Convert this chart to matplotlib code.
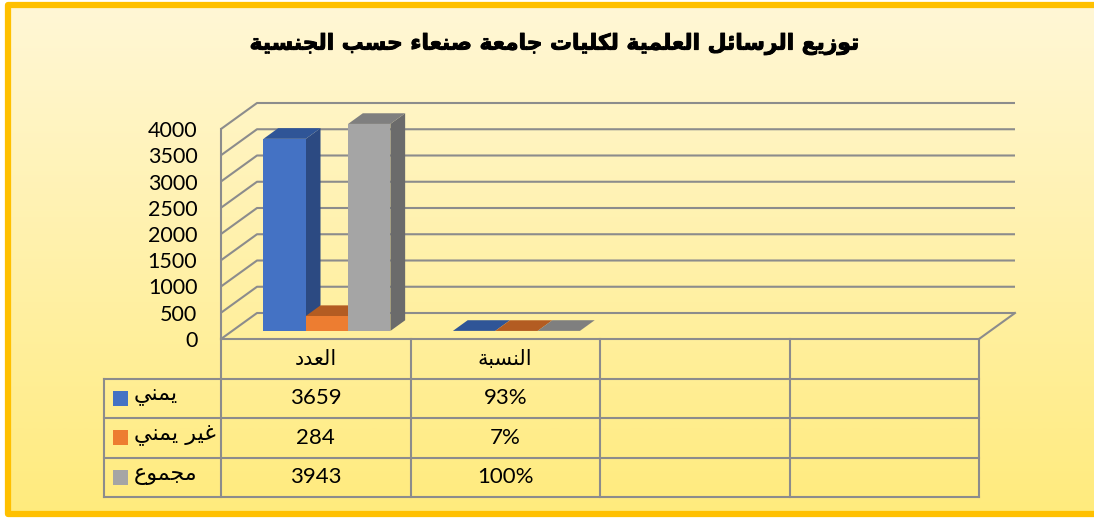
import numpy as np
import matplotlib
matplotlib.use('Agg')
import matplotlib.pyplot as plt
import matplotlib.patheffects as pe
from matplotlib.patches import Polygon, Rectangle

# ---- data ----
title = 'توزيع الرسائل العلمية لكليات جامعة صنعاء حسب الجنسية'
categories = ['العدد', 'النسبة', '', '']
series_names = ['يمني', 'غير يمني', 'مجموع']
yemeni = [3659, 0.93]
non_yemeni = [284, 0.07]
total = [3943, 1.00]
series_values = [yemeni, non_yemeni, total]
cell_text = [['3659', '93%'], ['284', '7%'], ['3943', '100%']]
yticks = list(range(0, 4001, 500))

front_colors = ['#4472c4', '#ed7d31', '#a5a5a5']
side_colors = ['#2c4a82', '#b45a1f', '#6b6b6b']
top_colors = ['#2f5597', '#b35c22', '#7f7f7f']
grid_color = '#8c8c8c'

# arabic letters: (isolated form in presentation forms-B, number of forms)
FORMS = {'ء': (0xFE80, 1), 'آ': (0xFE81, 2), 'أ': (0xFE83, 2), 'ؤ': (0xFE85, 2),
         'إ': (0xFE87, 2), 'ئ': (0xFE89, 4), 'ا': (0xFE8D, 2), 'ب': (0xFE8F, 4),
         'ة': (0xFE93, 2), 'ت': (0xFE95, 4), 'ث': (0xFE99, 4), 'ج': (0xFE9D, 4),
         'ح': (0xFEA1, 4), 'خ': (0xFEA5, 4), 'د': (0xFEA9, 2), 'ذ': (0xFEAB, 2),
         'ر': (0xFEAD, 2), 'ز': (0xFEAF, 2), 'س': (0xFEB1, 4), 'ش': (0xFEB5, 4),
         'ص': (0xFEB9, 4), 'ض': (0xFEBD, 4), 'ط': (0xFEC1, 4), 'ظ': (0xFEC5, 4),
         'ع': (0xFEC9, 4), 'غ': (0xFECD, 4), 'ف': (0xFED1, 4), 'ق': (0xFED5, 4),
         'ك': (0xFED9, 4), 'ل': (0xFEDD, 4), 'م': (0xFEE1, 4), 'ن': (0xFEE5, 4),
         'ه': (0xFEE9, 4), 'و': (0xFEED, 2), 'ى': (0xFEEF, 2), 'ي': (0xFEF1, 4)}


def shape(text):
    # pick the joined letter forms and reverse for right-to-left display
    words = []
    for word in text.split(' '):
        chars = []
        for i, ch in enumerate(word):
            if ch not in FORMS:
                chars.append(ch)
                continue
            base, n = FORMS[ch]
            prev = word[i - 1] if i > 0 else None
            nxt = word[i + 1] if i + 1 < len(word) else None
            link_prev = n > 1 and prev in FORMS and FORMS[prev][1] == 4
            link_next = n == 4 and nxt in FORMS and FORMS[nxt][1] > 1
            if link_prev and link_next:
                code = base + 3
            elif link_prev:
                code = base + 1
            elif link_next:
                code = base + 2
            else:
                code = base
            chars.append(chr(code))
        words.append(''.join(chars))
    return ' '.join(words)[::-1]


W, H = 1094, 518
fig = plt.figure(figsize=(W / 100, H / 100), dpi=100)
fig.patch.set_facecolor('white')

# background with gradient and gold frame (the right side is cut off)
bg = fig.add_axes([0, 0, 1, 1])
grad = np.linspace(0, 1, 256)[:, None]
c0 = np.array([255, 247, 214]) / 255
c1 = np.array([255, 235, 125]) / 255
img = c0[None, None, :] * (1 - grad[..., None]) + c1[None, None, :] * grad[..., None]
bg.imshow(img, extent=(8, W, 514, 5), aspect='auto', zorder=0)
bg.plot([W, 8, 8, W], [5, 5, 514, 514], color='#ffc000', lw=4.5, zorder=2,
        solid_joinstyle='round', solid_capstyle='butt')
bg.set_xlim(0, W)
bg.set_ylim(H, 0)
bg.axis('off')

fig.text(553 / W, 1 - 44 / H, shape(title), ha='center', va='center',
         fontsize=15.7, fontweight='bold', family=['DejaVu Sans'],
         path_effects=[pe.withStroke(linewidth=0.7, foreground='black')])

# ---- 3d bar area ----
ax = fig.add_axes([221 / W, 1 - 339 / H, (979 - 221) / W, 210 / H])
ax.set_xlim(0, 4)
ax.set_ylim(0, 4000)
ax.patch.set_alpha(0)
for sp in ax.spines.values():
    sp.set_visible(False)
ax.set_xticks([])
ax.set_yticks(yticks)
ax.set_yticklabels([str(t) for t in yticks], family=['Lato'], fontsize=15.5)
ax.tick_params(axis='y', length=0, pad=17)

DX, DY = 36 / 189.5, 26 * 4000 / 210


def P(x, v, d):
    return (x + d * DX, v + d * DY)


lw_grid = 1.5
for v in yticks:
    pts = [P(0, v, 0), P(0, v, 1), P(4, v, 1)]
    ax.plot(*zip(*pts), color=grid_color, lw=lw_grid, clip_on=False, zorder=1,
            solid_capstyle='butt')
ax.plot(*zip(P(0, 0, 0), P(0, 4000, 0)), color=grid_color, lw=lw_grid, clip_on=False, zorder=1)
ax.plot(*zip(P(4, 0, 0), P(4, 0, 1)), color=grid_color, lw=lw_grid, clip_on=False, zorder=1)
ax.plot(*zip(P(0, 0, 0), P(4, 0, 0)), color=grid_color, lw=lw_grid, clip_on=False, zorder=1)

gap = 0.165
bw = (1 - 2 * gap) / 3
d0, d1 = 0.31, 0.72
for c in range(len(yemeni)):
    for s, vals in enumerate(series_values):
        v = vals[c]
        x0 = c + gap + s * bw
        x1 = x0 + bw
        front = [P(x0, 0, d0), P(x1, 0, d0), P(x1, v, d0), P(x0, v, d0)]
        side = [P(x1, 0, d0), P(x1, 0, d1), P(x1, v, d1), P(x1, v, d0)]
        top = [P(x0, v, d0), P(x1, v, d0), P(x1, v, d1), P(x0, v, d1)]
        z = 3 + s
        ax.add_patch(Polygon(side, closed=True, fc=side_colors[s], ec='none', zorder=z, clip_on=False))
        ax.add_patch(Polygon(top, closed=True, fc=top_colors[s], ec='none', zorder=z, clip_on=False))
        ax.add_patch(Polygon(front, closed=True, fc=front_colors[s], ec='none', zorder=z, clip_on=False))

# ---- data table ----
tax = fig.add_axes([221 / W, 1 - 497 / H, (979 - 221) / W, 158 / H])
tax.set_xlim(0, 4)
tax.set_ylim(4, 0)
tax.axis('off')
left = -117 / 189.5
for r in range(1, 5):
    tax.plot([left, 4], [r, r], color=grid_color, lw=lw_grid, clip_on=False)
for c in range(5):
    tax.plot([c, c], [0, 4], color=grid_color, lw=lw_grid, clip_on=False)
tax.plot([left, left], [1, 4], color=grid_color, lw=lw_grid, clip_on=False)

for c, name in enumerate(categories):
    if name:
        tax.text(c + 0.5, 0.5, shape(name), ha='center', va='center', fontsize=15,
                 family=['DejaVu Sans'])
key_w = 15 / 189.5
key_h = 15 / 39.5
for s, name in enumerate(series_names):
    r = s + 1
    tax.add_patch(Rectangle((-108 / 189.5, r + 0.5 - key_h / 2), key_w, key_h,
                            fc=front_colors[s], ec='none', clip_on=False))
    tax.text(-87 / 189.5, r + 0.45, shape(name), ha='left', va='center', fontsize=16,
             family=['DejaVu Sans'])
    for c, txt in enumerate(cell_text[s]):
        tax.text(c + 0.5, r + 0.5, txt, ha='center', va='center', fontsize=16,
                 family=['Lato'])

fig.savefig('out.png', dpi=100)
